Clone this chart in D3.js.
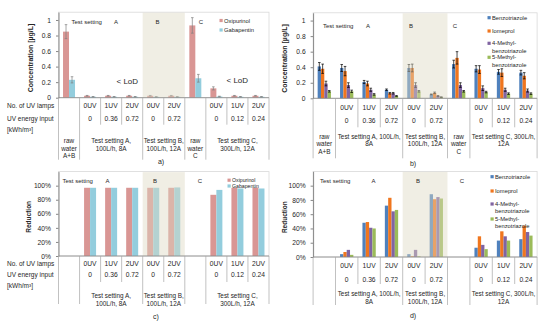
<!DOCTYPE html>
<html>
<head>
<meta charset="utf-8">
<script src="https://cdn.jsdelivr.net/npm/d3@7"></script>
<style>
	body { margin: 0; background: #fff; }
	svg text { font-family: "Liberation Sans", Arial, sans-serif; fill: #262626; }
</style>
</head>
<body>
<svg id="chart" width="550" height="325"></svg>
<script>
// Category axis (same 10 columns in every panel)
//---------------------------------------------------------------------------
var lampLabels = ["", "0UV", "1UV", "2UV", "0UV", "2UV", "", "0UV", "1UV", "2UV"];
var energyLabels = ["", "0", "0.36", "0.72", "0", "0.72", "", "0", "0.12", "0.24"];
var rowLabels = ["No. of UV lamps", "UV energy input", "[kWh/m³]"];
var groupEdges = [0, 1, 4, 6, 7, 10]; // long divider lines
var shadedCats = [4, 5]; // test setting B

var groupsNarrow = [
	{ from: 0, to: 1, lines: ["raw", "water", "A+B"], raw: true },
	{ from: 1, to: 4, lines: ["Test setting A,", "100L/h, 8A"] },
	{ from: 4, to: 6, lines: ["Test setting B,", "100L/h, 12A"] },
	{ from: 6, to: 7, lines: ["raw", "water", "C"], raw: true },
	{ from: 7, to: 10, lines: ["Test setting C,", "300L/h, 12A"] }
];
var groupsWide = [
	{ from: 0, to: 1, lines: ["raw", "water", "A+B"], raw: true },
	{ from: 1, to: 4, lines: ["Test setting A, 100L/h,", "8A"] },
	{ from: 4, to: 6, lines: ["Test setting B,", "100L/h, 12A"] },
	{ from: 6, to: 7, lines: ["raw", "water", "C"], raw: true },
	{ from: 7, to: 10, lines: ["Test setting C, 300L/h,", "12A"] }
];

// a) concentrations [µg/L]
var oxipurinol    = [0.85, 0.025, 0.025, 0.025, 0.025, 0.025, 0.93, 0.12, 0.025, 0.025];
var oxipurinolErr = [0.09, 0.004, 0.004, 0.004, 0.004, 0.004, 0.10, 0.02, 0.004, 0.004];
var gabapentin    = [0.23, 0.012, 0.012, 0.012, 0.012, 0.012, 0.25, 0.015, 0.012, 0.012];
var gabapentinErr = [0.04, 0.003, 0.003, 0.003, 0.003, 0.003, 0.05, 0.004, 0.003, 0.003];

// b) concentrations [µg/L]
var benzotriazole    = [0.41, 0.39, 0.21, 0.11, 0.39, 0.05, 0.44, 0.38, 0.34, 0.33];
var benzotriazoleErr = [0.05, 0.045, 0.02, 0.01, 0.045, 0.005, 0.05, 0.04, 0.03, 0.03];
var iomeprol         = [0.38, 0.35, 0.19, 0.065, 0.39, 0.07, 0.52, 0.37, 0.33, 0.29];
var iomeprolErr      = [0.06, 0.06, 0.03, 0.01, 0.05, 0.01, 0.08, 0.05, 0.05, 0.04];
var methyl4          = [0.19, 0.17, 0.11, 0.065, 0.17, 0.03, 0.17, 0.13, 0.11, 0.10];
var methyl4Err       = [0.03, 0.03, 0.02, 0.01, 0.03, 0.005, 0.03, 0.03, 0.02, 0.02];
var methyl5          = [0.09, 0.09, 0.05, 0.03, 0.09, 0.015, 0.09, 0.08, 0.06, 0.06];
var methyl5Err       = [0.01, 0.015, 0.01, 0.005, 0.01, 0.003, 0.01, 0.01, 0.01, 0.01];

// c) reduction
var oxipurinolRed = [null, 0.97, 0.97, 0.97, 0.97, 0.97, null, 0.87, 0.97, 0.97];
var gabapentinRed = [null, 0.97, 0.97, 0.97, 0.97, 0.975, null, 0.94, 0.96, 0.96];

// d) reduction
var benzotriazoleRed = [null, 0.04, 0.48, 0.72, 0.04, 0.88, null, 0.13, 0.23, 0.25];
var iomeprolRed      = [null, 0.07, 0.49, 0.83, 0.01, 0.81, null, 0.29, 0.36, 0.44];
var methyl4Red       = [null, 0.10, 0.41, 0.64, 0.10, 0.84, null, 0.17, 0.29, 0.35];
var methyl5Red       = [null, 0.03, 0.40, 0.66, 0.01, 0.82, null, 0.11, 0.23, 0.30];

var concTicks = [0, 0.2, 0.4, 0.6, 0.8, 1];
var redTicks = [0, 0.2, 0.4, 0.6, 0.8, 1];

var col = {
	oxi: "#d99694", gaba: "#93cddd",
	benz: "#4f81bd", iom: "#f0761e", m4: "#8064a2", m5: "#9bbb59"
};

var svg = d3.select("#chart");

// Draw one panel
//---------------------------------------------------------------------------
function drawPanel(p) {
	var g = svg.append("g");
	var x = d3.scaleBand().domain(d3.range(10)).range([p.left, p.right]);
	var y = d3.scaleLinear().domain([0, p.yMax]).range([p.zero, p.top]);
	var sub = d3.scaleBand().domain(d3.range(p.series.length)).range([0, p.groupW]);
	var off = (x.bandwidth() - p.groupW) / 2;

	// plot frame
	g.append("rect")
		.attr("x", p.left).attr("y", p.top)
		.attr("width", p.right - p.left).attr("height", p.zero - p.top)
		.attr("fill", "none").attr("stroke", "#d9d9d9").attr("stroke-width", 0.8);

	// bars + error bars
	p.series.forEach(function(s, si) {
		var rows = s.values.map(function(v, i) {
			return { v: v, i: i, e: s.err ? s.err[i] : null };
		}).filter(function(d) { return d.v != null; });

		g.selectAll(null).data(rows).enter().append("rect")
			.attr("x", function(d) { return x(d.i) + off + sub(si); })
			.attr("y", function(d) { return y(d.v); })
			.attr("width", sub.bandwidth())
			.attr("height", function(d) { return p.zero - y(d.v); })
			.attr("fill", s.color);

		if (s.err) {
			var eb = g.selectAll(null).data(rows).enter().append("g")
				.attr("stroke", p.errColor).attr("stroke-width", 0.7);
			var cx = function(d) { return x(d.i) + off + sub(si) + sub.bandwidth() / 2; };
			eb.append("line")
				.attr("x1", cx).attr("x2", cx)
				.attr("y1", function(d) { return y(d.v + d.e); })
				.attr("y2", function(d) { return y(Math.max(0, d.v - d.e)); });
			[1, -1].forEach(function(sign) {
				eb.append("line")
					.attr("x1", function(d) { return cx(d) - 1.3; })
					.attr("x2", function(d) { return cx(d) + 1.3; })
					.attr("y1", function(d) { return y(Math.max(0, d.v + sign * d.e)); })
					.attr("y2", function(d) { return y(Math.max(0, d.v + sign * d.e)); });
			});
		}
	});

	// shaded test setting B
	g.append("rect")
		.attr("x", x(shadedCats[0]))
		.attr("y", p.top + 0.5)
		.attr("width", x.bandwidth() * shadedCats.length)
		.attr("height", p.zero - p.top - 0.5)
		.attr("fill", "#ddd9c3").attr("opacity", 0.45);

	// y axis
	var axis = g.append("g")
		.attr("transform", "translate(" + p.left + ",0)")
		.call(d3.axisLeft(y).tickValues(p.ticks).tickFormat(p.fmt)
			.tickSize(2.5).tickSizeOuter(0).tickPadding(5));
	axis.select(".domain").attr("stroke", "#868686");
	axis.selectAll(".tick line").attr("stroke", "#868686");
	axis.selectAll("text").attr("font-size", 6.7).attr("fill", "#262626");

	g.append("text")
		.attr("transform", "translate(" + p.titleX + "," + ((p.top + p.zero) / 2 + 3) + ") rotate(-90)")
		.attr("text-anchor", "middle").attr("font-size", p.titleSize).attr("font-weight", "bold")
		.text(p.yTitle);

	// category table
	g.append("line")
		.attr("x1", p.left).attr("x2", p.right)
		.attr("y1", p.zero).attr("y2", p.zero)
		.attr("stroke", "#868686").attr("stroke-width", 0.8);
	g.selectAll(null).data(d3.range(11)).enter().append("line")
		.attr("x1", function(i) { return p.left + i * x.bandwidth(); })
		.attr("x2", function(i) { return p.left + i * x.bandwidth(); })
		.attr("y1", p.zero)
		.attr("y2", function(i) {
			return p.zero + (groupEdges.indexOf(i) >= 0 ? p.longLen : p.shortLen);
		})
		.attr("stroke", "#a6a6a6").attr("stroke-width", 0.7);

	g.selectAll(null).data(lampLabels).enter().append("text")
		.attr("x", function(d, i) { return x(i) + x.bandwidth() / 2; })
		.attr("y", p.zero + p.row1 + 2.3)
		.attr("text-anchor", "middle").attr("font-size", 6.7)
		.text(function(d) { return d; });
	g.selectAll(null).data(energyLabels).enter().append("text")
		.attr("x", function(d, i) { return x(i) + x.bandwidth() / 2; })
		.attr("y", p.zero + p.row2 + 2.3)
		.attr("text-anchor", "middle").attr("font-size", 6.7)
		.text(function(d) { return d; });

	if (p.rowLabels) {
		[p.row1, p.row2, p.row3].forEach(function(r, k) {
			g.append("text")
				.attr("x", 7).attr("y", p.zero + r + 2.3)
				.attr("font-size", 6.5)
				.text(rowLabels[k]);
		});
	}

	p.groups.forEach(function(gr) {
		if (gr.raw && !p.showRaw) return;
		var cx = p.left + (gr.from + gr.to) / 2 * x.bandwidth();
		gr.lines.forEach(function(t, k) {
			g.append("text")
				.attr("x", cx).attr("y", p.zero + p.grp + k * 7.7 + 2.3)
				.attr("text-anchor", "middle").attr("font-size", 6.4)
				.text(t);
		});
	});

	// setting labels inside the plot
	g.append("text").attr("x", p.setX[0]).attr("y", p.setY + 2)
		.attr("font-size", 6).text("Test setting");
	["A", "B", "C"].forEach(function(t, k) {
		g.append("text").attr("x", p.setX[k + 1]).attr("y", p.setY + 2)
			.attr("font-size", 6).attr("text-anchor", "middle").text(t);
	});

	// legend
	p.series.forEach(function(s, si) {
		var ly = p.legend.y[si];
		g.append("rect")
			.attr("x", p.legend.x).attr("y", ly - 1.6)
			.attr("width", 3.2).attr("height", 3.2).attr("fill", s.color);
		s.label.forEach(function(t, k) {
			g.append("text")
				.attr("x", p.legend.x + 4.5).attr("y", ly + 2 + k * 7.3)
				.attr("font-size", p.legend.size).text(t);
		});
	});

	(p.notes || []).forEach(function(n) {
		g.append("text").attr("x", n.x).attr("y", n.y)
			.attr("font-size", 8).text(n.t);
	});

	g.append("text").attr("x", p.caption[0]).attr("y", p.caption[1] + 2.5)
		.attr("text-anchor", "middle").attr("font-size", 7).text(p.caption[2]);
}

// a)
drawPanel({
	left: 58.5, right: 269, zero: 97.7, top: 12.2, yMax: 1.1,
	ticks: concTicks, fmt: d3.format("~g"), groupW: 12, errColor: "#7f7f7f",
	series: [
		{ label: ["Oxipurinol"], color: col.oxi, values: oxipurinol, err: oxipurinolErr },
		{ label: ["Gabapentin"], color: col.gaba, values: gabapentin, err: gabapentinErr }
	],
	yTitle: "Concentration [µg/L]", titleX: 33, titleSize: 7,
	longLen: 62, shortLen: 27, row1: 8, row2: 21, row3: 32, grp: 43,
	rowLabels: true, groups: groupsNarrow, showRaw: true,
	setX: [71.5, 116, 157.5, 201], setY: 22,
	legend: { x: 219.5, y: [20.5, 30], size: 5.8 },
	notes: [{ x: 116.5, y: 84, t: "< LoD" }, { x: 226.5, y: 83, t: "< LoD" }],
	caption: [161, 161, "a)"]
});

// b)
drawPanel({
	left: 313.1, right: 537.1, zero: 98.3, top: 12.8, yMax: 1.1,
	ticks: concTicks, fmt: d3.format("~g"), groupW: 13.3, errColor: "#000",
	series: [
		{ label: ["Benzotriazole"], color: col.benz, values: benzotriazole, err: benzotriazoleErr },
		{ label: ["Iomeprol"], color: col.iom, values: iomeprol, err: iomeprolErr },
		{ label: ["4-Methyl-", "benzotriazole"], color: col.m4, values: methyl4, err: methyl4Err },
		{ label: ["5-Methyl-", "benzotriazole"], color: col.m5, values: methyl5, err: methyl5Err }
	],
	yTitle: "Concentration [µg/L]", titleX: 287, titleSize: 7,
	longLen: 60, shortLen: 29, row1: 9, row2: 22, row3: 33, grp: 38,
	rowLabels: false, groups: groupsWide, showRaw: true,
	setX: [323, 368, 411, 455], setY: 26,
	legend: { x: 487.5, y: [17.7, 31, 43.3, 57.3], size: 5.8 },
	caption: [413, 163, "b)"]
});

// c)
drawPanel({
	left: 58.5, right: 269, zero: 256, top: 171.6, yMax: 1.2,
	ticks: redTicks, fmt: d3.format(".0%"), groupW: 12,
	series: [
		{ label: ["Oxipurinol"], color: col.oxi, values: oxipurinolRed },
		{ label: ["Gabapentin"], color: col.gaba, values: gabapentinRed }
	],
	yTitle: "Reduction", titleX: 31, titleSize: 6.5,
	longLen: 48, shortLen: 26, row1: 7.5, row2: 19, row3: 30, grp: 40,
	rowLabels: true, groups: groupsNarrow, showRaw: false,
	setX: [62.5, 107.5, 155, 200], setY: 180.7,
	legend: { x: 227.5, y: [180.2, 186], size: 5.2 },
	caption: [156, 316, "c)"]
});

// d)
drawPanel({
	left: 313.1, right: 537.1, zero: 257, top: 171.4, yMax: 1.2,
	ticks: redTicks, fmt: d3.format(".0%"), groupW: 13.3,
	series: [
		{ label: ["Benzotriazole"], color: col.benz, values: benzotriazoleRed },
		{ label: ["Iomeprol"], color: col.iom, values: iomeprolRed },
		{ label: ["4-Methyl-", "benzotriazole"], color: col.m4, values: methyl4Red },
		{ label: ["5-Methyl-", "benzotriazole"], color: col.m5, values: methyl5Red }
	],
	yTitle: "Reduction", titleX: 287, titleSize: 6.5,
	longLen: 48, shortLen: 27, row1: 9, row2: 23, row3: 33, grp: 37,
	rowLabels: false, groups: groupsWide, showRaw: false,
	setX: [320, 373.5, 418, 462], setY: 180.7,
	legend: { x: 490.5, y: [176.7, 191, 204, 219], size: 5.8 },
	caption: [413, 315, "d)"]
});
</script>
</body>
</html>
